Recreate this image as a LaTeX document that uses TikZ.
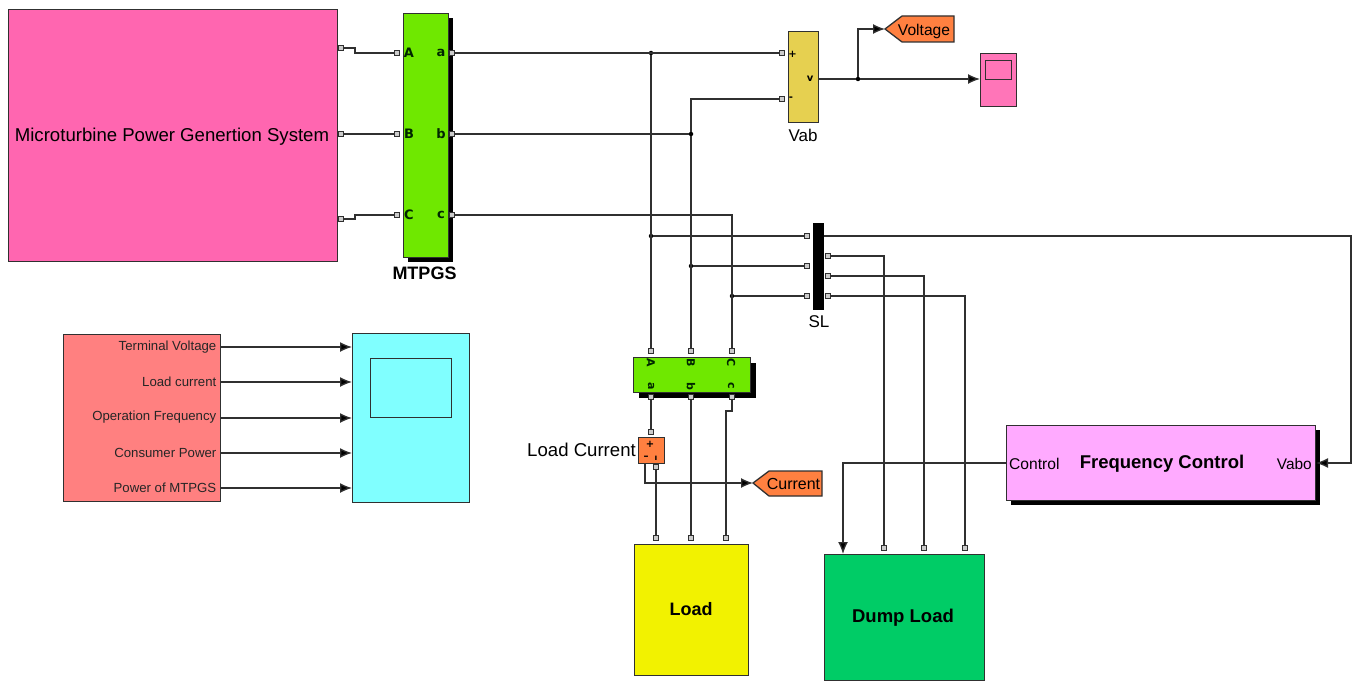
\documentclass[tikz,border=0pt]{standalone}
\usepackage{fontspec}
\setmainfont{Liberation Sans}
\newfontfamily\portfont{DejaVu Sans}
\usetikzlibrary{arrows.meta,shadows,calc}
\definecolor{bpink}{HTML}{FF66B0}
\definecolor{bgreen}{HTML}{6FE800}
\definecolor{byellow}{HTML}{F2F200}
\definecolor{bdump}{HTML}{00CC66}
\definecolor{blilac}{HTML}{FFAAFF}
\definecolor{bred}{HTML}{FF8080}
\definecolor{bcyan}{HTML}{80FFFF}
\definecolor{borange}{HTML}{FF8040}
\definecolor{bvab}{HTML}{E6D050}
\definecolor{edge}{HTML}{303030}
\newcommand{\fs}[1]{\fontsize{#1pt}{#1pt}\selectfont}
\tikzset{
  blockbox/.style={draw=edge,line width=1.3pt,inner sep=0pt,anchor=north west,text=black},
  wh/.style 2 args={minimum width=#1pt,minimum height=#2pt},
  shad/.style={general shadow={shadow xshift=#1pt,shadow yshift=-#1pt,fill=black,opacity=1}},
  port/.style={draw=edge,fill=gray!40,line width=1.2pt,inner sep=0pt,minimum size=4.5pt},
  wire/.style={draw=edge,line width=1.3pt},
  sig/.style={wire,-{Latex[length=12pt,width=10pt,fill=black]}},
  dotj/.style={circle,fill=black,inner sep=0pt,minimum size=4.5pt},
  plabel/.style={inner sep=0pt,font=\portfont\bfseries\fs{13},text=black!85!green},
  rlabel/.style={inner sep=0pt,font=\portfont\bfseries\fs{11},text=black!85!green,rotate=-90},
  tag/.style={inner sep=0pt,text=black},
}
\begin{document}
\begin{tikzpicture}[x=1pt,y=-1pt]
\useasboundingbox (0,0) rectangle (1360,682);
% blocks
\node[blockbox,fill=bpink,wh={329}{252}] (micro) at (8,9) {};
\node[tag,font=\fs{18.6}] (microtext) at (172,136.5) {Microturbine Power Genertion System};
\node[blockbox,fill=bgreen,wh={45}{244},shad=4] (mtpgs) at (403,13) {};
\node[tag,font=\bfseries\fs{18}] (mtpgstext) at (424.5,273.5) {MTPGS};
\node[blockbox,fill=bvab,wh={30.5}{91}] (vab) at (787.5,31) {};
\node[tag,font=\fs{17}] (vabtext) at (803,135) {Vab};
\node[blockbox,draw=black,fill=black,wh={10}{86}] (sl) at (813,223) {};
\node[tag,font=\fs{17}] (sltext) at (819,322) {SL};
\node[blockbox,fill=bgreen,wh={117}{35},shad=5] (tp) at (633,357) {};
\node[blockbox,fill=borange,wh={26}{26}] (lcur) at (638,437) {};
\node[tag,font=\fs{18.6},anchor=east] (lcurtext) at (636,450) {Load Current};
\node[blockbox,fill=byellow,wh={114}{131}] (load) at (634,544) {};
\node[tag,font=\bfseries\fs{18}] (loadtext) at (691,609.5) {Load};
\node[blockbox,fill=bdump,wh={160}{126}] (dump) at (824,554) {};
\node[tag,font=\bfseries\fs{18.5}] (dumptext) at (903,618) {Dump Load};
\node[blockbox,fill=blilac,wh={309}{75},shad=4] (freq) at (1006,425) {};
\node[tag,font=\bfseries\fs{18.5}] (freqtext) at (1162,463.5) {Frequency Control};
\node[tag,font=\fs{15.6},anchor=west] (ctrltext) at (1009,464) {Control};
\node[tag,font=\fs{15.4},anchor=east] (vabotext) at (1312,464) {Vabo};
\node[blockbox,fill=bpink!90!white,wh={36}{53}] (sc1) at (980,53) {};
\node[blockbox,fill=bpink!90!white,wh={26}{19}] (sc1in) at (985,60) {};
\node[blockbox,fill=bred,wh={157}{167}] (sigs) at (63,334) {};
\node[blockbox,fill=bcyan,wh={117}{169}] (sc2) at (352,333) {};
\node[blockbox,fill=bcyan,wh={81.5}{59}] (sc2in) at (369.5,358) {};
% tags
\draw[draw=edge,line width=1.3pt,fill=borange] (885,29) -- (902,16) -- (954,16) -- (954,42) -- (902,42) -- cycle;
\node[tag,font=\fs{15.6}] (volttext) at (924,31) {Voltage};
\coordinate (vtip) at (885,29);
\draw[draw=edge,line width=1.3pt,fill=borange] (753,483) -- (769,471) -- (822,471) -- (822,496) -- (769,496) -- cycle;
\node[tag,font=\fs{16}] (curtext) at (793.5,483.5) {Current};
\coordinate (ctip) at (753,483);
% block labels
\foreach \n/\t/\y in {lA/A/53,lB/B/134,lC/C/215}
  \node[plabel] (\n) at (409,\y) {\t};
\foreach \n/\t/\y in {la/a/53,lb/b/134,lc/c/215}
  \node[plabel] (\n) at (441,\y) {\t};
\foreach \n/\t/\x in {rA/A/651,rB/B/691,rC/C/731}
  \node[rlabel] (\n) at (\x,363) {\t};
\foreach \n/\t/\x in {ra/a/651,rb/b/691,rc/c/731}
  \node[rlabel] (\n) at (\x,386) {\t};
\node[tag,font=\portfont\bfseries\fs{10}] (vplus) at (792.5,54) {+};
\node[tag,font=\portfont\bfseries\fs{10}] (vminus) at (791,99) {-};
\node[tag,font=\portfont\bfseries\fs{10}] (vv) at (810,79) {v};
\node[tag,font=\portfont\bfseries\fs{10}] (iplus) at (650,444) {+};
\node[tag,font=\portfont\bfseries\fs{10}] (iminus) at (646,458) {–};
\node[tag,font=\portfont\bfseries\fs{8}] (ii) at (656,458) {ı};
\foreach \n/\t/\y in {t1/Terminal Voltage/347.5,t2/Load current/381.5,t3/Operation Frequency/417.5,t4/Consumer Power/452.5,t5/Power of MTPGS/488}
  \node[tag,font=\fs{13.2},anchor=east,text=black!85] (\n) at (216.5,\y) {\t};
% ports
\foreach \n/\x/\y in {pk1/341/48,pk2/341/134,pk3/341/219,
  mA/397/53,mB/397/134,mC/397/215,ma/452/53,mb/452/134,mc/452/215,
  vp/782/53,vn/782/99,
  sa/807/236,sb/807/266,sc/807/296,sx/828/256,sy/828/276,sz/828/296,
  tA/651/351,tB/691/351,tC/732/351,bA/651/397,bB/691/397,bC/732/397,
  lp/651/432,ln/656/467,
  La/656/538,Lb/691/538,Lc/726/538,
  d1/884/548,d2/924/548,d3/965/548}
  \node[port] (\n) at (\x,\y) {};
% junctions
\node[dotj] (j1) at (651,53) {};
\node[dotj] (j2) at (691,134) {};
\node[dotj] (j4) at (651,236) {};
\node[dotj] (j5) at (691,266) {};
\node[dotj] (j6) at (732,296) {};
\node[dotj] (j7) at (858,79) {};
\coordinate (cin) at (1006,463);
\coordinate (vin) at (1316,463);
\coordinate (dctl) at (843,554);
\coordinate (ccorner) at (732,215);
\coordinate (rcorner) at (1351,236);
% wires
\draw[wire] (pk1.east) -- ++(11,0) |- (mA.west);
\draw[wire] (pk2.east) -- (mB.west);
\draw[wire] (pk3.east) -- ++(11,0) |- (mC.west);
\draw[wire] (ma.east) -- (vp.west);
\draw[wire] (mb.east) -- (j2);
\draw[wire] (mc.east) -- (ccorner) -- (tC.north);
\draw[wire] (j1) -- (tA.north);
\draw[wire] (j2) -- (tB.north);
\draw[wire] (j2) |- (vn.west);
\draw[wire] (j4) -- (sa.west);
\draw[wire] (j5) -- (sb.west);
\draw[wire] (j6) -- (sc.west);
\draw[sig] (sl.east |- sa) -- (rcorner) |- (vin);
\draw[wire] (sx.east) -| (d1.north);
\draw[wire] (sy.east) -| (d2.north);
\draw[wire] (sz.east) -| (d3.north);
\draw[sig] (cin) -| (dctl);
\draw[wire] (bA.south) -- (lp.north);
\draw[wire] (ln.south) -- (La.north);
\draw[wire] (bB.south) -- (Lb.north);
\draw[wire] (bC.south) -- ++(0,11) -| (Lc.north);
\draw[sig] (645,463) |- (ctip);
\draw[wire] (vab.east |- j7) -- (j7);
\draw[sig] (j7) -- (sc1.west |- j7);
\draw[sig] (j7) |- (vtip);
\foreach \n/\y in {1/347,2/382,3/418,4/453,5/488}{
  \coordinate (r\n) at (220,\y);
  \coordinate (s\n) at (352,\y);
  \draw[sig] (r\n) -- (s\n);
}
\end{tikzpicture}
\end{document}
